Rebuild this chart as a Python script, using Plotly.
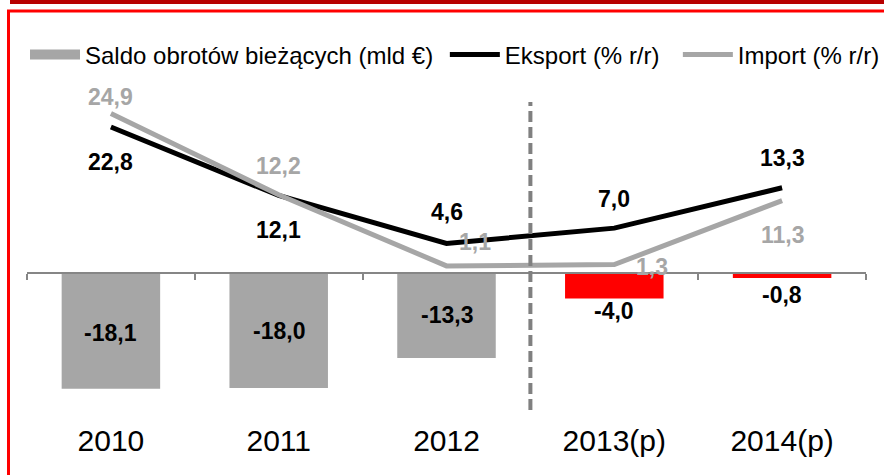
import plotly.graph_objects as go

years = ["2010", "2011", "2012", "2013(p)", "2014(p)"]
saldo = [-18.1, -18.0, -13.3, -4.0, -0.8]
eksport = [22.8, 12.1, 4.6, 7.0, 13.3]
import_ = [24.9, 12.2, 1.1, 1.3, 11.3]
bar_colors = ["#A6A6A6", "#A6A6A6", "#A6A6A6", "#FF0000", "#FF0000"]

W, H = 884, 475
ML, MR, MT, MB = 27, 18, 95, 60
PW, PH = W - ML - MR, H - MT - MB
YMIN, YMAX = -22.2, 27.8

def px(x):
    return (x - ML) / PW

def py(y):
    return (H - MB - y) / PH

def fmt(v):
    return f"{v:.1f}".replace(".", ",")

FONT = "Liberation Sans, Arial, sans-serif"
NB = "\u00a0"

fig = go.Figure()
fig.add_trace(go.Bar(
    x=years, y=saldo, name="Saldo obrotów bieżących (mld €)",
    marker=dict(color=bar_colors, line=dict(width=0)), width=0.587,
    showlegend=False, legendgroup="saldo",
))
# legend entry for the bar series (wide swatch like the original)
fig.add_trace(go.Scatter(
    x=[None], y=[None], name="Saldo obrotów bieżących (mld €)" + NB, mode="lines",
    line=dict(color="#A6A6A6", width=15), legendgroup="saldo",
))
fig.add_trace(go.Scatter(
    x=years, y=eksport, name="Eksport (% r/r)" + NB * 2, mode="lines",
    line=dict(color="#000000", width=5), cliponaxis=False,
))
fig.add_trace(go.Scatter(
    x=years, y=import_, name="Import (% r/r)", mode="lines",
    line=dict(color="#A6A6A6", width=5), cliponaxis=False,
))

ann = []
bar_shift = [-2, 0, 0, -12, -17]
for i, v in enumerate(saldo):
    inside = i < 3
    ann.append(dict(x=i, y=v / 2 if inside else v, text=fmt(v), showarrow=False,
                    yshift=bar_shift[i], font=dict(family=FONT, size=23, color="#000000", weight="bold")))
exp_shift = [(0, -35), (0, -35), (0, 31), (0, 29), (0, 30)]
for i, (v, (dx, dy)) in enumerate(zip(eksport, exp_shift)):
    ann.append(dict(x=i, y=v, text=fmt(v), showarrow=False, xshift=dx, yshift=dy,
                    font=dict(family=FONT, size=23, color="#000000", weight="bold")))
imp_shift = [(0, 17), (0, 29), (28, 24), (38, -2), (1, -34)]
for i, (v, (dx, dy)) in enumerate(zip(import_, imp_shift)):
    ann.append(dict(x=i, y=v, text=fmt(v), showarrow=False, xshift=dx, yshift=dy,
                    font=dict(family=FONT, size=23, color="#A6A6A6", weight="bold")))

boundaries = [i - 0.5 for i in range(len(years) + 1)]
zero_pos = (0 - YMIN) / (YMAX - YMIN)

shapes = [
    dict(type="line", xref="x", yref="y", x0=2.5, x1=2.5, y0=-21.4, y1=26.7,
         line=dict(color="#808080", width=4, dash="11px,5px"), layer="above"),
    dict(type="rect", xref="paper", yref="paper", x0=px(10), x1=px(884), y0=py(4), y1=py(0),
         fillcolor="#B80000", line=dict(width=0), layer="above"),
    dict(type="line", xref="paper", yref="paper", x0=px(7), x1=px(884), y0=py(11), y1=py(11),
         line=dict(color="#FF0000", width=3), layer="above"),
    dict(type="line", xref="paper", yref="paper", x0=px(8.5), x1=px(8.5), y0=py(10), y1=py(475),
         line=dict(color="#FF0000", width=3), layer="above"),
]

fig.update_layout(
    width=W, height=H,
    margin=dict(l=ML, r=MR, t=MT, b=MB, autoexpand=False),
    paper_bgcolor="white", plot_bgcolor="white",
    font=dict(family=FONT, color="#000000"),
    showlegend=True,
    legend=dict(orientation="h", x=px(25), xanchor="left", y=py(55), yanchor="middle",
                font=dict(family=FONT, size=24, color="#000000"), itemwidth=50,
                bgcolor="rgba(0,0,0,0)", traceorder="normal", groupclick="toggleitem"),
    xaxis=dict(type="category", categoryorder="array", categoryarray=years,
               range=[-0.5, len(years) - 0.5], showline=False, showgrid=False, zeroline=False,
               ticks="", automargin=False, ticklabelstandoff=5,
               tickfont=dict(family=FONT, size=30, color="#000000")),
    xaxis2=dict(overlaying="x", anchor="free", position=zero_pos, range=[-0.5, len(years) - 0.5],
                tickmode="array", tickvals=boundaries, ticks="outside", ticklen=6, tickwidth=2,
                tickcolor="#868686", showticklabels=False, showline=True, linecolor="#868686",
                linewidth=2, showgrid=False, zeroline=False, automargin=False),
    yaxis=dict(range=[YMIN, YMAX], visible=False, showgrid=False, zeroline=False, automargin=False),
    annotations=ann,
    shapes=shapes,
)
fig.add_trace(go.Scatter(x=[0], y=[0], xaxis="x2", mode="markers", marker=dict(opacity=0),
                         showlegend=False, hoverinfo="skip"))

fig.write_html("out.html", config={"displayModeBar": False},
               post_script="document.body.style.margin='0';document.body.style.overflow='hidden';")
